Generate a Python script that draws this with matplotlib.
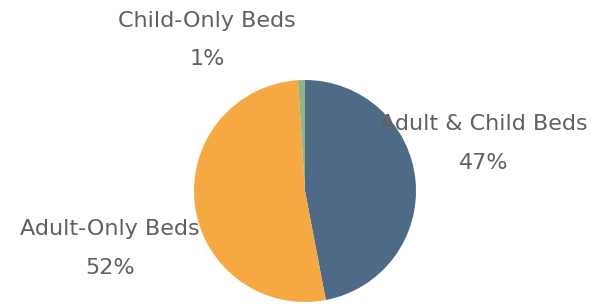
import matplotlib
matplotlib.use("Agg")
import matplotlib.pyplot as plt

categories = ["Adult & Child Beds", "Adult-Only Beds", "Child-Only Beds"]
values = [47, 52, 1]
colors = ["#4e6a86", "#f6a843", "#8fb48a"]

W, H = 594, 304
fig = plt.figure(figsize=(W / 100, H / 100), dpi=100)
ax = fig.add_axes([0, 0, 1, 1])

cx, cy, r = 305, H - 191, 111
ax.pie(values, colors=colors, startangle=90, counterclock=False,
       center=(cx, cy), radius=r, frame=True,
       wedgeprops=dict(linewidth=0))
ax.set_xlim(0, W)
ax.set_ylim(0, H)
ax.set_aspect("equal")
ax.axis("off")

label_pos = {
    "Adult & Child Beds": (484, 124, 163),
    "Adult-Only Beds": (110, 229, 268),
    "Child-Only Beds": (207, 21, 59),
}
for cat, v in zip(categories, values):
    x, y1, y2 = label_pos[cat]
    ax.text(x, H - y1, cat, ha="center", va="center", fontsize=16,
            color="#606060", family="DejaVu Sans")
    ax.text(x, H - y2, f"{v}%", ha="center", va="center", fontsize=16,
            color="#606060", family="DejaVu Sans")

fig.savefig("out.png", dpi=100)
